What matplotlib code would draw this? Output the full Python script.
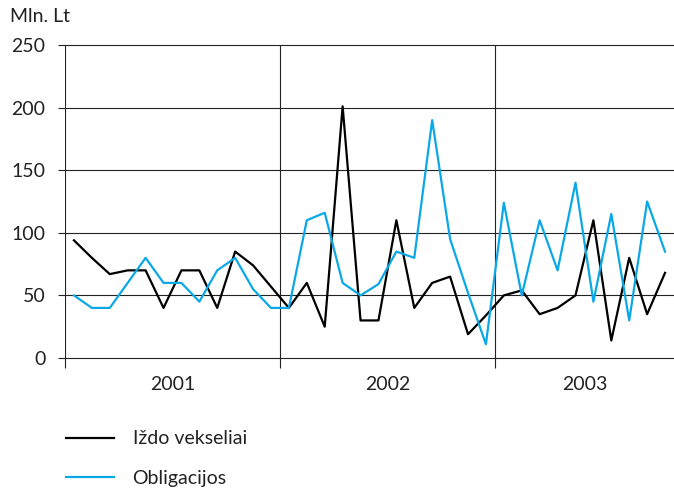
import matplotlib
matplotlib.use("Agg")
import matplotlib.pyplot as plt
import numpy as np

plt.rcParams['font.family'] = ['Lato', 'DejaVu Sans']

# monthly values, Jan 2001 .. Oct 2003
years = ['2001', '2002', '2003']
months_per_year = [12, 12, 10]
izdo = [94, 80, 67, 70, 70, 40, 70, 70, 40, 85, 74, 57,
        40, 60, 25, 201, 30, 30, 110, 40, 60, 65, 19, 34,
        50, 54, 35, 40, 50, 110, 14, 80, 35, 68]
oblig = [50, 40, 40, 60, 80, 60, 60, 45, 70, 80, 55, 40,
         40, 110, 116, 60, 50, 59, 85, 80, 190, 95, 52, 11,
         124, 50, 110, 70, 140, 45, 115, 30, 125, 85]
yticks = [0, 50, 100, 150, 200, 250]

x = np.arange(len(izdo))
bounds = np.concatenate([[0], np.cumsum(months_per_year)]) - 0.5
centers = (bounds[:-1] + bounds[1:]) / 2

fig = plt.figure(figsize=(6.74, 4.91), dpi=100)
ax = fig.add_axes([65/674, 1 - 358/491, 1 - 65/674, (358 - 45)/491])

for y in yticks:
    ax.axhline(y, color='#222222', lw=0.8, zorder=1, clip_on=False)
for b in bounds[:-1]:
    ax.axvline(b, color='#222222', lw=0.8, zorder=1)

l1, = ax.plot(x, izdo, color='black', lw=1.6, zorder=3)
l2, = ax.plot(x, oblig, color='#0aa8e6', lw=1.6, zorder=3)

ax.set_xlim(-0.5, len(izdo) - 0.5)
ax.set_ylim(0, 250)
for s in ax.spines.values():
    s.set_visible(False)

ax.set_yticks(yticks)
ax.tick_params(axis='y', length=5, width=0.8, color='#222222', pad=9, labelsize=14, colors='#222222')
ax.set_xticks(bounds[:-1])
ax.set_xticklabels([])
ax.tick_params(axis='x', which='major', length=7, width=0.8, color='#222222')
ax.set_xticks(centers, minor=True)
ax.set_xticklabels(years, minor=True)
ax.tick_params(axis='x', which='minor', length=0, pad=13, labelsize=14, labelcolor='#222222')

fig.text(10/674, 1 - 17/491, 'Mln. Lt', fontsize=14, color='#222222', va='center')

fig.legend([l1, l2], ['Iždo vekseliai', 'Obligacijos'], loc='upper left',
           bbox_to_anchor=(48/674, 1 - 413/491), frameon=False, fontsize=14,
           handlelength=2.5, handletextpad=0.95, labelspacing=1.15, labelcolor='#222222')

fig.savefig('out.png', dpi=100)
